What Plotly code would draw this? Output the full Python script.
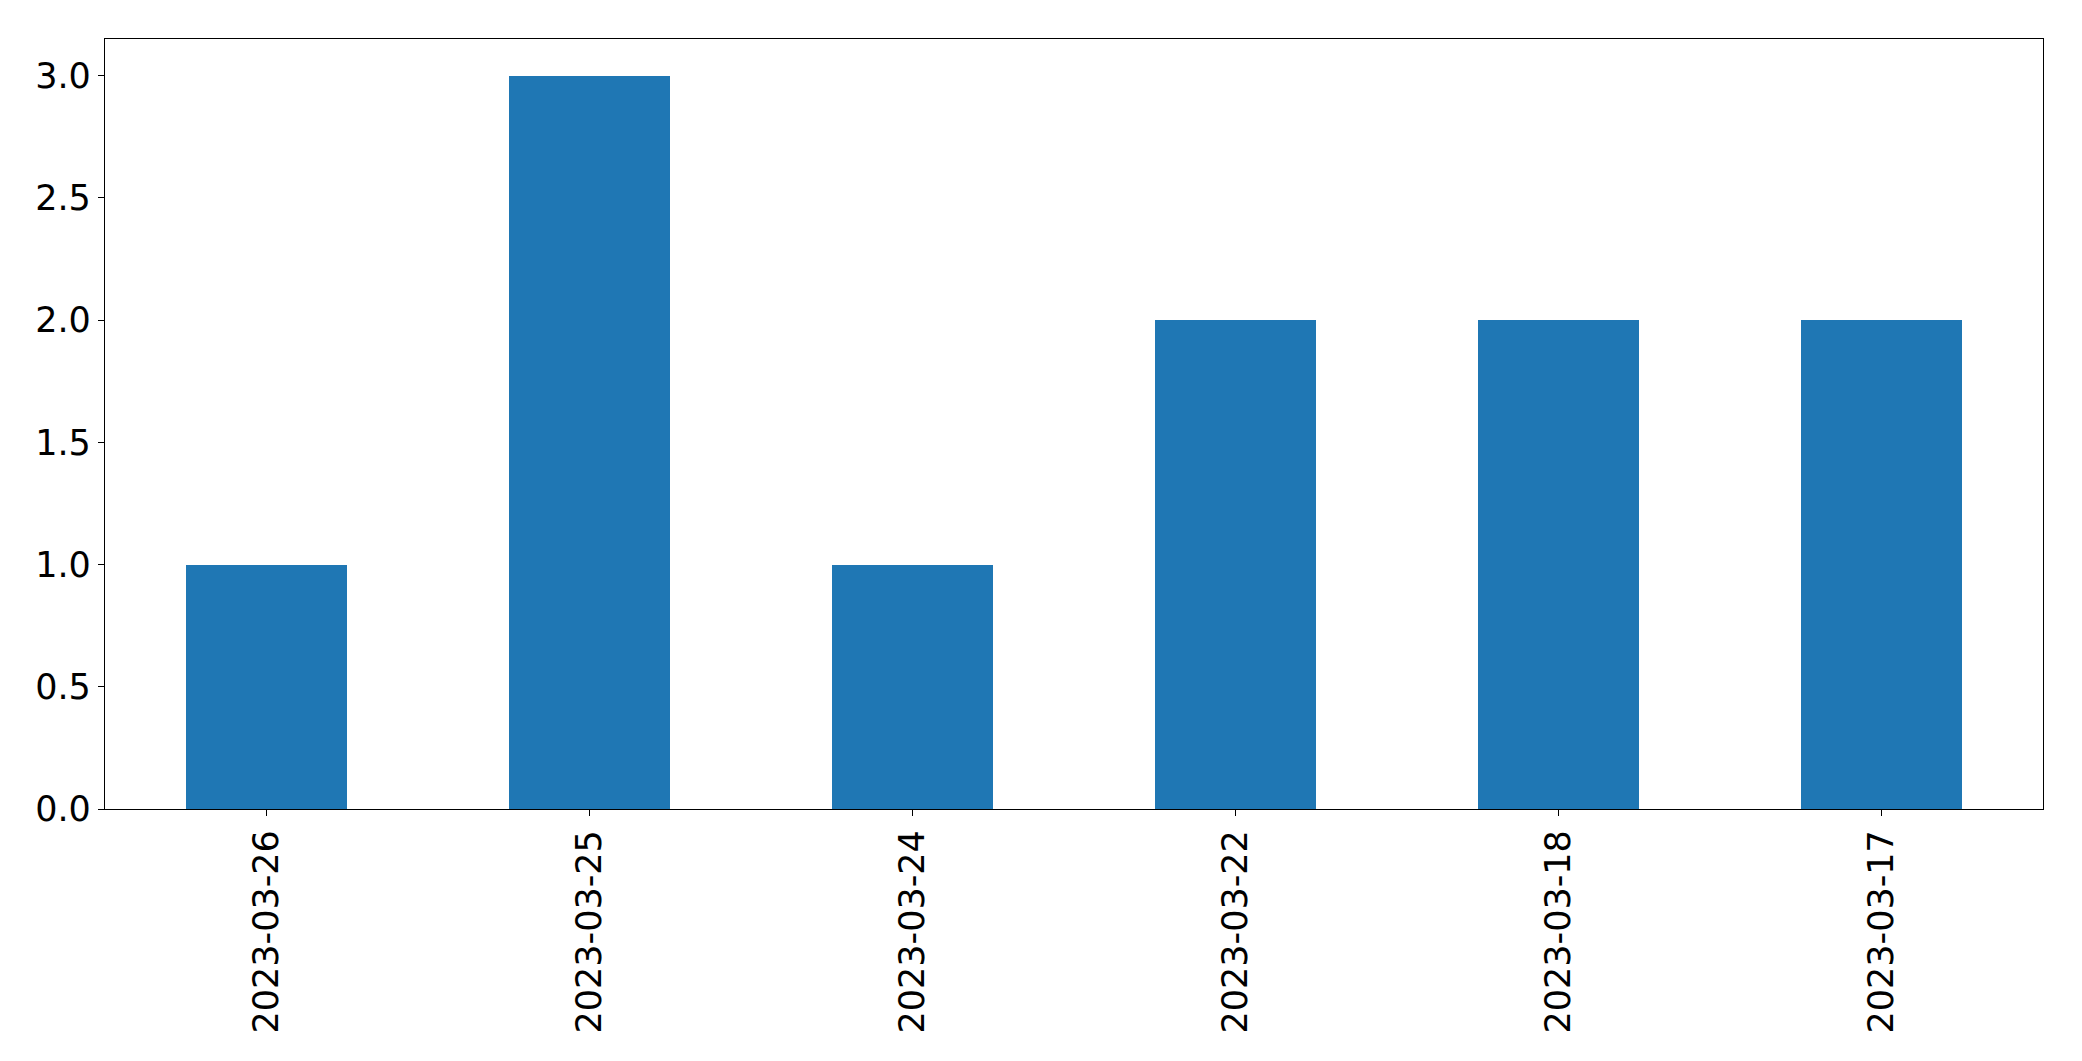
import plotly.graph_objects as go

dates = ["2023-03-26", "2023-03-25", "2023-03-24", "2023-03-22", "2023-03-18", "2023-03-17"]
counts = [1, 3, 1, 2, 2, 2]
y_ticks = [0.0, 0.5, 1.0, 1.5, 2.0, 2.5, 3.0]

fig = go.Figure(
    go.Bar(x=dates, y=counts, width=0.5, marker=dict(color="#1f77b4", line=dict(width=0)))
)

font = dict(family="DejaVu Sans", size=35, color="black")
fig.update_layout(
    width=2066, height=1045,
    margin=dict(l=97, r=31, t=31, b=244, autoexpand=False),
    paper_bgcolor="white", plot_bgcolor="white",
    showlegend=False, font=font, bargap=0,
)
fig.update_xaxes(
    type="category", range=[-0.5, 5.5], tickangle=-90,
    showline=True, mirror=True, linecolor="black", linewidth=1.3,
    ticks="outside", ticklen=6, tickwidth=1.3, tickcolor="black",
    showgrid=False, zeroline=False, tickfont=font, automargin=False,
)
fig.update_yaxes(
    range=[0, 3.15], tickvals=y_ticks, ticktext=[f"{v:.1f}" for v in y_ticks],
    showline=True, mirror=True, linecolor="black", linewidth=1.3,
    ticks="outside", ticklen=6, tickwidth=1.3, tickcolor="black",
    showgrid=False, zeroline=False, tickfont=font, automargin=False,
)

fig.write_html("out.html")
